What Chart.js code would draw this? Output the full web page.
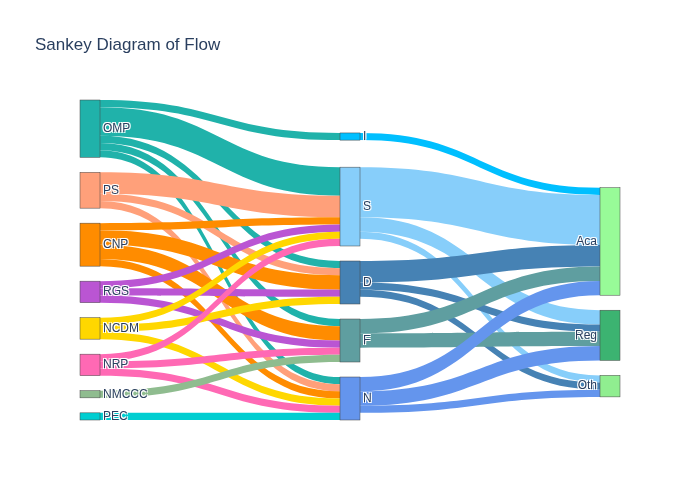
<!DOCTYPE html>
<html>
<head>
<meta charset="utf-8">
<script src="https://cdn.jsdelivr.net/npm/chart.js@4.4.0/dist/chart.umd.min.js"></script>
<style>
  body { margin: 0; background: #fff; }
</style>
</head>
<body>
<canvas id="graficoSankey" width="700" height="500"></canvas>
<script>
// nos e ligacoes
const nomes = ['OMP', 'PS', 'CNP', 'RGS', 'NCDM', 'NRP', 'NMCCC', 'PEC', 'I', 'S', 'D', 'F', 'N', 'Aca', 'Reg', 'Oth']
const cores = ['#20B2AA', '#FFA07A', '#FF8C00', '#BA55D3', '#FFD700', '#FF69B4', '#8FBC8F', '#00CED1',
               '#00BFFF', '#87CEFA', '#4682B4', '#5F9EA0', '#6495ED', '#98FB98', '#3CB371', '#90EE90']
const origem  = [0, 0, 0, 0, 0,  1, 1, 1,  2, 2, 2, 2,  3, 3, 3,  4, 4, 4,  5, 5, 5,  6,  7,  8,  9, 9, 9,  10, 10, 10,  11, 11,  12, 12, 12]
const destino = [8, 9, 10, 11, 12,  9, 10, 12,  9, 10, 11, 12,  9, 10, 11,  9, 10, 12,  9, 11, 12,  11,  12,  13,  13, 14, 15,  13, 14, 15,  13, 14,  13, 14, 15]
const valores = [1, 4, 1, 1, 1,  3, 1, 1,  1, 2, 2, 1,  1, 1, 1,  1, 1, 1,  1, 1, 1,  1,  1,  1,  7, 2, 1,  3, 1, 1,  2, 2,  2, 2, 1]

const titulo = 'Sankey Diagram of Flow'
const larguraNo = 20
const espacoNo = 15
const iteracoes = 50
const LARG = 540
const ALT = 320

function soma(lista) {
  return lista.reduce((a, l) => a + l.value, 0)
}

function montarSankey() {
  const nodes = nomes.map((nome, i) => ({ i, nome, cor: cores[i], sourceLinks: [], targetLinks: [] }))
  const links = valores.map((v, k) => ({ source: nodes[origem[k]], target: nodes[destino[k]], value: v }))
  links.forEach(l => { l.source.sourceLinks.push(l); l.target.targetLinks.push(l) })
  nodes.forEach(n => { n.value = Math.max(soma(n.sourceLinks), soma(n.targetLinks)) })

  let atual = nodes, prox = [], x = 0
  for (; atual.length; ++x, atual = prox, prox = []) {
    atual.forEach(n => {
      n.depth = x
      n.sourceLinks.forEach(l => { if (prox.indexOf(l.target) < 0) prox.push(l.target) })
    })
  }
  const kx = (LARG - larguraNo) / (x - 1)
  nodes.forEach(n => {
    const col = n.sourceLinks.length ? n.depth : x - 1
    n.col = col
    n.x0 = col * kx
    n.x1 = n.x0 + larguraNo
  })

  const colunas = []
  nodes.forEach(n => { (colunas[n.col] = colunas[n.col] || []).push(n) })

  const ky = Math.min(...colunas.map(c => (ALT - (c.length - 1) * espacoNo) / soma(c)))
  colunas.forEach(c => c.forEach((n, i) => { n.y0 = i; n.y1 = i + n.value * ky }))
  links.forEach(l => { l.width = l.value * ky })

  const centro = n => (n.y0 + n.y1) / 2

  function resolver() {
    colunas.forEach(c => {
      c.sort((a, b) => a.y0 - b.y0)
      let y = 0, n, dy
      for (let i = 0; i < c.length; i++) {
        n = c[i]
        dy = y - n.y0
        if (dy > 0) { n.y0 += dy; n.y1 += dy }
        y = n.y1 + espacoNo
      }
      dy = y - espacoNo - ALT
      if (dy > 0) {
        n.y0 -= dy; n.y1 -= dy
        y = n.y0
        for (let i = c.length - 2; i >= 0; i--) {
          n = c[i]
          dy = n.y1 + espacoNo - y
          if (dy > 0) { n.y0 -= dy; n.y1 -= dy }
          y = n.y0
        }
      }
    })
  }

  resolver()
  let alpha = 1
  for (let it = iteracoes; it > 0; it--) {
    alpha *= 0.99
    colunas.slice().reverse().forEach(c => c.forEach(n => {
      if (n.sourceLinks.length) {
        const dy = (n.sourceLinks.reduce((a, l) => a + centro(l.target) * l.value, 0) / soma(n.sourceLinks) - centro(n)) * alpha
        n.y0 += dy; n.y1 += dy
      }
    }))
    resolver()
    colunas.forEach(c => c.forEach(n => {
      if (n.targetLinks.length) {
        const dy = (n.targetLinks.reduce((a, l) => a + centro(l.source) * l.value, 0) / soma(n.targetLinks) - centro(n)) * alpha
        n.y0 += dy; n.y1 += dy
      }
    }))
    resolver()
  }

  nodes.forEach(n => {
    n.sourceLinks.sort((a, b) => a.target.y0 - b.target.y0)
    n.targetLinks.sort((a, b) => a.source.y0 - b.source.y0)
  })
  nodes.forEach(n => {
    let ya = n.y0, yb = n.y0
    n.sourceLinks.forEach(l => { l.y0 = ya + l.width / 2; ya += l.width })
    n.targetLinks.forEach(l => { l.y1 = yb + l.width / 2; yb += l.width })
  })
  return { nodes, links }
}

const sankey = montarSankey()

const desenhaSankey = {
  id: 'desenhaSankey',
  afterDatasetsDraw(chart) {
    const ctx = chart.ctx
    const sx = chart.scales.x
    const sy = chart.scales.y
    const px = v => sx.getPixelForValue(v)
    const py = v => sy.getPixelForValue(v)
    ctx.save()

    sankey.links.forEach(l => {
      const xa = px(l.source.x1), xb = px(l.target.x0)
      const xm = xa + (xb - xa) * 0.5
      const h = l.width / 2
      const a0 = py(l.y0 - h), a1 = py(l.y0 + h)
      const b0 = py(l.y1 - h), b1 = py(l.y1 + h)
      ctx.beginPath()
      ctx.moveTo(xa, a0)
      ctx.bezierCurveTo(xm, a0, xm, b0, xb, b0)
      ctx.lineTo(xb, b1)
      ctx.bezierCurveTo(xm, b1, xm, a1, xa, a1)
      ctx.closePath()
      ctx.fillStyle = l.source.cor
      ctx.fill()
    })

    sankey.nodes.forEach(n => {
      const x = px(n.x0), y = py(n.y0)
      const w = px(n.x1) - x, h = py(n.y1) - y
      ctx.fillStyle = n.cor
      ctx.fillRect(x, y, w, h)
      ctx.strokeStyle = '#444'
      ctx.lineWidth = 0.5
      ctx.strokeRect(x, y, w, h)
    })

    ctx.font = '12px "Liberation Sans", Arial, sans-serif'
    ctx.textBaseline = 'middle'
    sankey.nodes.forEach(n => {
      const direita = n.x0 > LARG / 2 + 100
      const tx = direita ? px(n.x0) - 3 : px(n.x1) + 3
      const ty = py((n.y0 + n.y1) / 2)
      ctx.textAlign = direita ? 'right' : 'left'
      ctx.fillStyle = '#fff'
      ;[[1, 1], [-1, -1], [1, -1], [-1, 1]].forEach(d => ctx.fillText(n.nome, tx + d[0], ty + d[1]))
      ctx.fillStyle = '#2a3f5f'
      ctx.fillText(n.nome, tx, ty)
    })

    ctx.font = '17px "Liberation Sans", Arial, sans-serif'
    ctx.textAlign = 'left'
    ctx.textBaseline = 'alphabetic'
    ctx.fillStyle = '#2a3f5f'
    ctx.fillText(titulo, 35, 50)
    ctx.restore()
  }
}

const ctx = document.getElementById('graficoSankey').getContext('2d')
const graph = new Chart(ctx, {
  type: 'scatter',
  data: { datasets: [{ data: [] }] },
  options: {
    responsive: false,
    animation: false,
    layout: { padding: { left: 80, right: 80, top: 100, bottom: 80 } },
    scales: {
      x: { type: 'linear', min: 0, max: LARG, display: false },
      y: { type: 'linear', min: 0, max: ALT, reverse: true, display: false }
    },
    plugins: {
      legend: { display: false },
      tooltip: { enabled: false }
    }
  },
  plugins: [desenhaSankey]
})
</script>
</body>
</html>
